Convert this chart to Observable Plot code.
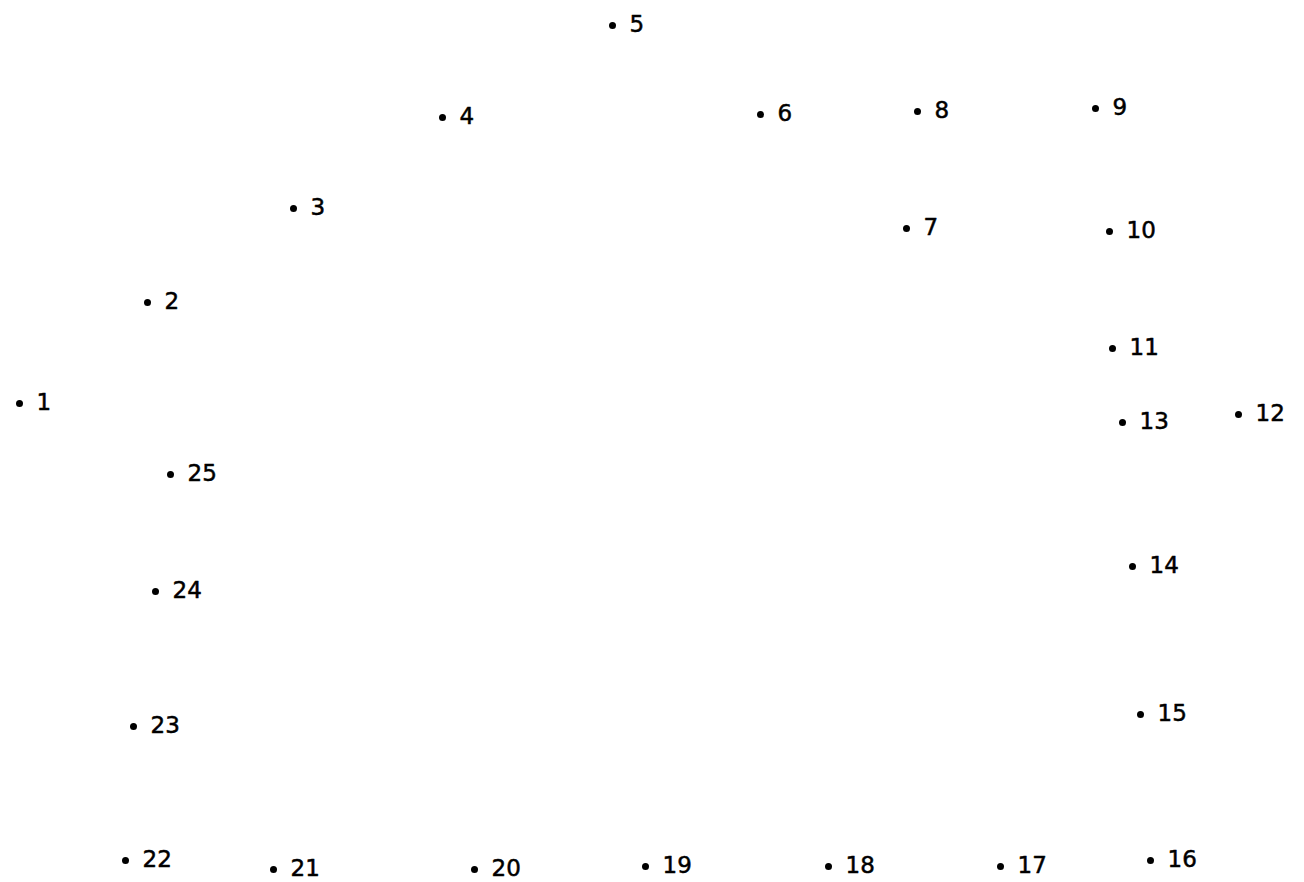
<!DOCTYPE html>
<html>
<head>
<meta charset="utf-8">
<script src="https://cdn.jsdelivr.net/npm/d3@7"></script>
<script src="https://cdn.jsdelivr.net/npm/@observablehq/plot@0.6"></script>
<style>
  html, body { margin: 0; padding: 0; background: #fff; }
  #chart svg { display: block; }
</style>
</head>
<body>
<div id="chart"></div>
<script>
const labels = [1,2,3,4,5,6,7,8,9,10,11,12,13,14,15,16,17,18,19,20,21,22,23,24,25];
const xs = [19,147,293,442,612,760,906,917,1095,1109,1112,1238,1122,1132,1140,1150,1000,828,645,474,273,125,133,155,170];
const ys = [403,302,208,117,25,114,228,111,108,231,348,414,422,566,714,860,866,866,866,869,869,860,726,591,474];

const data = labels.map((l, i) => ({label: String(l), x: xs[i], y: ys[i]}));

const chart = Plot.plot({
  width: 1304,
  height: 882,
  margin: 0,
  x: {domain: [0, 1304], range: [0, 1304], axis: null},
  y: {domain: [0, 882], range: [0, 882], axis: null},
  style: {fontFamily: "'DejaVu Sans', Verdana, sans-serif", background: "#fff"},
  marks: [
    Plot.dot(data, {x: "x", y: "y", r: 3.5, fill: "#000", stroke: "none"}),
    Plot.text(data, {x: "x", y: "y", text: "label", dx: 17, dy: -1, textAnchor: "start", fontSize: 23, fill: "#000", stroke: "#000", strokeWidth: 0.5})
  ]
});
document.getElementById("chart").append(chart);
</script>
</body>
</html>
